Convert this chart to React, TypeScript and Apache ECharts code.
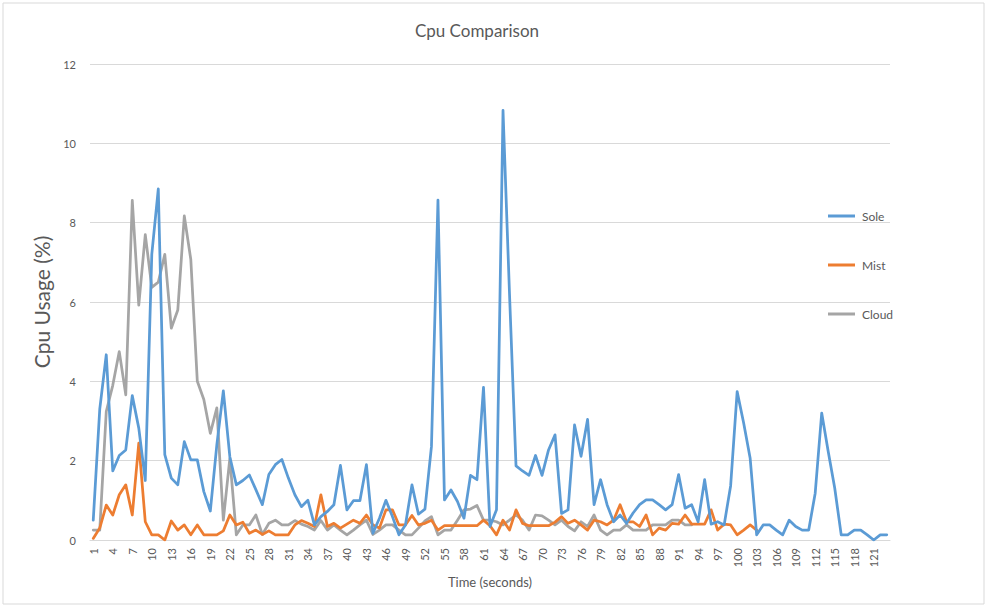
import React, { useEffect, useRef } from "react";
import * as echarts from "echarts";

// Time axis: one category per second, 1..123
const seconds: string[] = Array.from({ length: 123 }, (_, i) => String(i + 1));

// CPU usage (%) per second for each deployment
const sole: number[] = [
  0.5, 3.3, 4.67, 1.74, 2.13, 2.27, 3.64, 2.82, 1.5, 7.2,
  8.85, 2.15, 1.56, 1.39, 2.48, 2.02, 2.02, 1.22, 0.73, 2.4,
  3.76, 2.1, 1.39, 1.5, 1.64, 1.27, 0.89, 1.65, 1.9, 2.03,
  1.56, 1.14, 0.84, 1.0, 0.38, 0.59, 0.72, 0.89, 1.88, 0.76,
  0.99, 0.99, 1.9, 0.17, 0.55, 1.0, 0.59, 0.13, 0.38, 1.39,
  0.65, 0.78, 2.36, 8.57, 1.01, 1.26, 0.97, 0.55, 1.63, 1.52,
  3.85, 0.34, 0.76, 10.83, 6.2, 1.87, 1.74, 1.63, 2.13, 1.63,
  2.27, 2.65, 0.67, 0.76, 2.9, 2.11, 3.04, 0.89, 1.52, 0.89,
  0.46, 0.63, 0.42, 0.68, 0.89, 1.01, 1.01, 0.89, 0.76, 0.89,
  1.65, 0.8, 0.89, 0.46, 1.52, 0.4, 0.46, 0.38, 1.37, 3.74,
  2.95, 2.06, 0.13, 0.38, 0.38, 0.25, 0.13, 0.5, 0.34, 0.25,
  0.25, 1.18, 3.2, 2.23, 1.31, 0.13, 0.13, 0.25, 0.25, 0.13,
  0.0, 0.13, 0.13,
];

const mist: number[] = [
  0.04, 0.3, 0.88, 0.63, 1.14, 1.39, 0.63, 2.44, 0.46, 0.13,
  0.13, 0.0, 0.48, 0.25, 0.38, 0.13, 0.38, 0.13, 0.13, 0.13,
  0.23, 0.63, 0.38, 0.45, 0.17, 0.25, 0.14, 0.23, 0.13, 0.13,
  0.13, 0.38, 0.49, 0.42, 0.34, 1.14, 0.34, 0.42, 0.3, 0.4,
  0.5, 0.42, 0.63, 0.38, 0.3, 0.76, 0.76, 0.38, 0.38, 0.62,
  0.38, 0.42, 0.5, 0.25, 0.36, 0.36, 0.36, 0.36, 0.36, 0.36,
  0.5, 0.36, 0.13, 0.5, 0.25, 0.76, 0.42, 0.36, 0.36, 0.36,
  0.36, 0.45, 0.59, 0.42, 0.5, 0.38, 0.25, 0.5, 0.46, 0.38,
  0.5, 0.89, 0.46, 0.46, 0.34, 0.63, 0.13, 0.3, 0.25, 0.42,
  0.4, 0.63, 0.4, 0.4, 0.4, 0.76, 0.25, 0.4, 0.38, 0.13,
  0.25, 0.38, 0.25,
];

const cloud: number[] = [
  0.25, 0.25, 3.24, 3.9, 4.75, 3.66, 8.56, 5.92, 7.7, 6.37,
  6.5, 7.2, 5.34, 5.8, 8.17, 7.07, 4.0, 3.54, 2.69, 3.33,
  0.5, 2.06, 0.13, 0.38, 0.38, 0.63, 0.14, 0.42, 0.5, 0.38,
  0.38, 0.49, 0.4, 0.34, 0.25, 0.49, 0.25, 0.38, 0.25, 0.13,
  0.25, 0.38, 0.5, 0.14, 0.25, 0.38, 0.38, 0.25, 0.13, 0.13,
  0.3, 0.48, 0.59, 0.13, 0.25, 0.25, 0.5, 0.76, 0.78, 0.87,
  0.5, 0.5, 0.46, 0.38, 0.5, 0.63, 0.5, 0.25, 0.63, 0.61,
  0.5, 0.38, 0.5, 0.34, 0.23, 0.46, 0.34, 0.63, 0.25, 0.13,
  0.25, 0.25, 0.38, 0.25, 0.25, 0.25, 0.38, 0.38, 0.38, 0.5,
  0.5, 0.38, 0.38,
];

const seriesNames = ["Sole", "Mist", "Cloud"];
const seriesColors = ["#5B9BD5", "#ED7D31", "#A5A5A5"];

const FONT = "Lato, 'Open Sans', sans-serif";
const TEXT = "#595959";

export default function App() {
  const ref = useRef<HTMLDivElement>(null);

  useEffect(() => {
    if (!ref.current) return;
    const chart = echarts.init(ref.current, null, { renderer: "svg" });
    const values = [sole, mist, cloud];

    chart.setOption({
      animation: false,
      backgroundColor: "#ffffff",
      textStyle: { fontFamily: FONT },
      title: {
        text: "Cpu Comparison",
        left: 472,
        top: 17,
        textAlign: "center",
        textStyle: { fontFamily: FONT, fontSize: 17, fontWeight: "normal", color: TEXT },
      },
      graphic: [
        {
          type: "rect",
          shape: { x: 3, y: 3, width: 981, height: 601 },
          style: { fill: "none", stroke: "#d9d9d9", lineWidth: 1 },
          silent: true,
        },
      ],
      legend: {
        orient: "vertical",
        left: 823,
        top: 204,
        itemGap: 35,
        itemWidth: 27,
        itemHeight: 3,
        icon: "rect",
        data: seriesNames,
        textStyle: { fontFamily: FONT, fontSize: 12, color: TEXT, lineHeight: 14, padding: [0, 0, 0, 2] },
      },
      grid: { left: 90, right: 98, top: 64, bottom: 69, containLabel: false },
      xAxis: {
        type: "category",
        data: seconds,
        boundaryGap: true,
        name: "Time (seconds)",
        nameLocation: "middle",
        nameGap: 35,
        nameTextStyle: { fontFamily: FONT, fontSize: 13, color: TEXT },
        axisLine: { show: true, lineStyle: { color: "#d9d9d9", width: 1 } },
        axisTick: { show: false },
        axisLabel: {
          interval: 2,
          rotate: 90,
          margin: 8,
          fontFamily: FONT,
          fontSize: 11,
          color: TEXT,
        },
        splitLine: { show: false },
      },
      yAxis: {
        type: "value",
        min: 0,
        max: 12,
        interval: 2,
        name: "Cpu Usage (%)",
        nameLocation: "middle",
        nameGap: 32,
        nameTextStyle: { fontFamily: FONT, fontSize: 21, color: TEXT },
        axisLine: { show: false },
        axisTick: { show: false },
        axisLabel: { margin: 14, fontFamily: FONT, fontSize: 11, color: TEXT },
        splitLine: { lineStyle: { color: "#d9d9d9", width: 1 } },
      },
      series: seriesNames.map((name, k) => ({
        name,
        type: "line",
        data: values[k],
        showSymbol: false,
        symbol: "none",
        color: seriesColors[k],
        lineStyle: { width: 2.75, color: seriesColors[k], join: "round", cap: "round" },
        z: 3 - k,
      })),
    });

    return () => chart.dispose();
  }, []);

  return (
    <div
      ref={ref}
      style={{ position: "fixed", left: 0, top: 0, width: 988, height: 609 }}
    />
  );
}
